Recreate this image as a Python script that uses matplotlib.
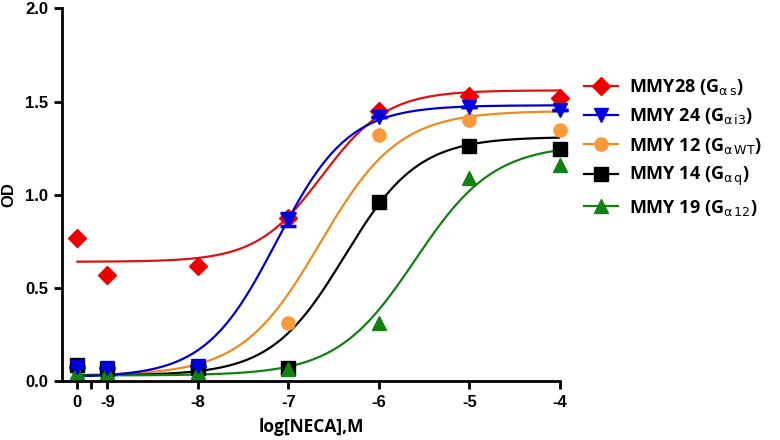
import numpy as np
import matplotlib
matplotlib.use("Agg")
import matplotlib.pyplot as plt

# log[NECA] doses; control (0) sits to the left of the axis break
dose_labels = ["0", "-9", "-8", "-7", "-6", "-5", "-4"]
dose_pos = [-9.33, -9, -8, -7, -6, -5, -4]
break_pos = -9.18

names = ["MMY28 (G$_{\\mathrm{α\\,s}}$)", "MMY 24 (G$_{\\mathrm{α\\,i3}}$)",
         "MMY 12 (G$_{\\mathrm{α\\,WT}}$)", "MMY 14 (G$_{\\mathrm{α\\,q}}$)",
         "MMY 19 (G$_{\\mathrm{α\\,12}}$)"]

od_mmy28 = [0.77, 0.57, 0.62, 0.875, 1.45, 1.53, 1.52]
od_mmy24 = [0.075, 0.07, 0.08, 0.865, 1.415, 1.47, 1.455]
od_mmy12 = [0.07, 0.06, 0.075, 0.31, 1.32, 1.40, 1.345]
od_mmy14 = [0.085, 0.065, 0.07, 0.07, 0.96, 1.26, 1.245]
od_mmy19 = [0.05, 0.05, 0.05, 0.065, 0.31, 1.09, 1.16]
err_mmy24 = [0, 0, 0, 0.035, 0, 0, 0]

# sigmoid fit parameters: bottom, top, logEC50, hill
fit_bottom = [0.64, 0.02, 0.03, 0.03, 0.03]
fit_top = [1.56, 1.48, 1.45, 1.31, 1.27]
fit_ec50 = [-6.63, -7.13, -6.65, -6.38, -5.6]
fit_hill = [1.2, 1.1, 1.0, 1.07, 1.0]

colors = ["#ee0000", "#0000dd", "#f89a3c", "#000000", "#128012"]
line_colors = ["#dd1111", "#0000cc", "#f08a1c", "#000000", "#128012"]
markers = ["D", "v", "o", "s", "^"]
msizes = [9, 10, 9.5, 10, 10]
series = [od_mmy28, od_mmy24, od_mmy12, od_mmy14, od_mmy19]
draw_order = [2, 3, 4, 0, 1]

plt.rcParams["mathtext.fontset"] = "dejavusans"

fig = plt.figure(figsize=(7.8, 4.4), dpi=100)
ax = fig.add_axes([0.0795, 0.134, 0.6385, 0.847])

xs = np.linspace(dose_pos[0], dose_pos[-1], 300)
for i in draw_order:
    curve = fit_bottom[i] + (fit_top[i] - fit_bottom[i]) / (1 + 10 ** ((fit_ec50[i] - xs) * fit_hill[i]))
    ax.plot(xs, curve, color=line_colors[i], lw=1.6, zorder=2)
for i in draw_order:
    if i == 1:
        ax.errorbar(dose_pos, series[i], yerr=err_mmy24, fmt="none", ecolor=colors[i],
                    elinewidth=2, capsize=6, capthick=2.5, zorder=4, clip_on=False)
    ax.plot(dose_pos, series[i], ls="none", marker=markers[i], ms=msizes[i],
            color=colors[i], mec=colors[i], zorder=3, clip_on=False)

# legend proxies
handles = []
for i in range(5):
    h, = ax.plot([], [], color=line_colors[i], lw=1.6, marker=markers[i], ms=msizes[i],
                 mfc=colors[i], mec=colors[i])
    handles.append(h)
leg = fig.legend(handles, names, loc="upper left", bbox_to_anchor=(0.728, 0.862),
                 frameon=False, handlelength=1.9, labelspacing=0.52, handletextpad=0.6,
                 prop={"family": "Open Sans", "weight": "bold", "size": 13})

ax.set_xlim(-9.5, -4)
ax.set_ylim(0, 2.0)
ax.set_xticks(dose_pos + [break_pos])
ax.set_xticklabels(dose_labels + [""])
ax.set_yticks([0, 0.5, 1.0, 1.5, 2.0])
ax.set_yticklabels(["0.0", "0.5", "1.0", "1.5", "2.0"])
for lab in ax.get_xticklabels() + ax.get_yticklabels():
    lab.set_fontfamily("Liberation Sans")
    lab.set_fontweight("bold")
    lab.set_fontsize(12)
ax.tick_params(width=2, length=6, pad=4)
for s in ["top", "right"]:
    ax.spines[s].set_visible(False)
for s in ["left", "bottom"]:
    ax.spines[s].set_linewidth(2)

ax.set_ylabel("OD", fontfamily="Liberation Sans", fontweight="bold", fontsize=12, labelpad=6)
ax.set_xlabel("log[NECA],M", fontfamily="Open Sans", fontweight="bold", fontsize=12.5, labelpad=6)

fig.savefig("out.png", dpi=100)
